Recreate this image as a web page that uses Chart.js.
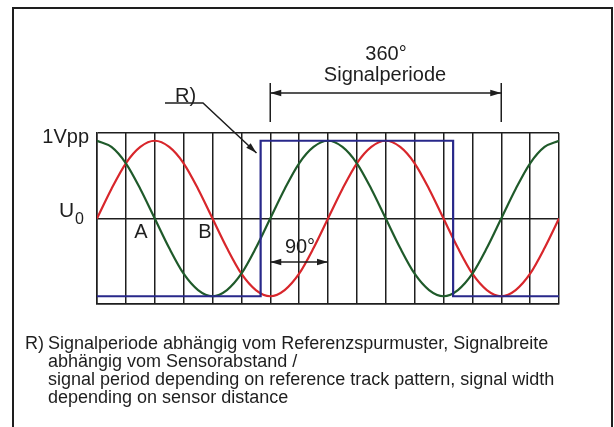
<!DOCTYPE html>
<html>
<head>
<meta charset="utf-8">
<script src="https://cdn.jsdelivr.net/npm/chart.js@4/dist/chart.umd.min.js"></script>
<style>
  body { margin: 0; background: #fff; }
  canvas { display: block; }
</style>
</head>
<body>
<canvas id="chart" width="614" height="427"></canvas>
<script>
'use strict';

// phase in electrical degrees, one sample every 22.5 deg
let phaseDeg = [0, 22.5, 45, 67.5, 90, 112.5, 135, 157.5, 180, 202.5, 225, 247.5, 270, 292.5, 315, 337.5,
  360, 382.5, 405, 427.5, 450, 472.5, 495, 517.5, 540, 562.5, 585, 607.5, 630, 652.5, 675, 697.5, 720];

// green track (cosine shaped)
let signalA = [1, 0.92, 0.71, 0.38, 0, -0.38, -0.71, -0.92, -1, -0.92, -0.71, -0.38, 0, 0.38, 0.71, 0.92,
  1, 0.92, 0.71, 0.38, 0, -0.38, -0.71, -0.92, -1, -0.92, -0.71, -0.38, 0, 0.38, 0.71, 0.92, 1];

// red track (sine shaped)
let signalB = [0, 0.38, 0.71, 0.92, 1, 0.92, 0.71, 0.38, 0, -0.38, -0.71, -0.92, -1, -0.92, -0.71, -0.38,
  0, 0.38, 0.71, 0.92, 1, 0.92, 0.71, 0.38, 0, -0.38, -0.71, -0.92, -1, -0.92, -0.71, -0.38, 0];

// blue reference pulse
let refDeg = [0, 255, 255, 555, 555, 720];
let refLevel = [-1, -1, 1, 1, -1, -1];

let yTicks = [-1.1, 0, 1.1];

function toPoints(xs, ys) {
  let pts = [];
  for (let i = 0; i < xs.length; i++) {
    pts.push({ x: xs[i], y: ys[i] });
  }
  return pts;
}

const ink = '#1e1e1e';
const font = '"Liberation Sans", Arial, sans-serif';

function arrowHead(ctx, x, y, dir) {
  // dir: angle in radians the arrow points to
  ctx.save();
  ctx.translate(x, y);
  ctx.rotate(dir);
  ctx.beginPath();
  ctx.moveTo(0, 0);
  ctx.lineTo(-11, -3.2);
  ctx.lineTo(-11, 3.2);
  ctx.closePath();
  ctx.fill();
  ctx.restore();
}

const annotations = {
  id: 'annotations',
  afterDraw(chart) {
    const ctx = chart.ctx;
    const xs = chart.scales.x;
    ctx.save();
    ctx.strokeStyle = ink;
    ctx.fillStyle = ink;

    // outer frame
    ctx.lineWidth = 2;
    ctx.strokeRect(13, 8, 599, 430);

    // 360 deg dimension
    const p0 = xs.getPixelForValue(270);
    const p1 = xs.getPixelForValue(630);
    ctx.lineWidth = 1.5;
    ctx.beginPath();
    ctx.moveTo(p0, 83); ctx.lineTo(p0, 122);
    ctx.moveTo(p1, 83); ctx.lineTo(p1, 122);
    ctx.moveTo(p0, 93); ctx.lineTo(p1, 93);
    ctx.stroke();
    arrowHead(ctx, p0, 93, Math.PI);
    arrowHead(ctx, p1, 93, 0);

    ctx.font = '20px ' + font;
    ctx.textAlign = 'center';
    ctx.fillText('360°', 386, 60);
    ctx.fillText('Signalperiode', 385, 81);

    // R) leader
    ctx.textAlign = 'left';
    ctx.fillText('R)', 175, 102);
    const tipX = 256.5, tipY = 153;
    ctx.beginPath();
    ctx.moveTo(165, 103);
    ctx.lineTo(203, 103);
    ctx.lineTo(tipX, tipY);
    ctx.stroke();
    arrowHead(ctx, tipX, tipY, Math.atan2(tipY - 103, tipX - 203));

    // left labels
    ctx.textAlign = 'right';
    ctx.fillText('1Vpp', 89, 143);
    ctx.textAlign = 'left';
    ctx.font = '21px ' + font;
    ctx.fillText('U', 59, 217);
    ctx.font = '16px ' + font;
    ctx.fillText('0', 75, 224);

    // A / B markers
    ctx.font = '20px ' + font;
    ctx.textAlign = 'center';
    ctx.fillText('A', 141, 238);
    ctx.fillText('B', 205, 238);
    ctx.fillText('90°', 300, 253);

    // 90 deg dimension
    const q0 = xs.getPixelForValue(270);
    const q1 = xs.getPixelForValue(360);
    ctx.beginPath();
    ctx.moveTo(q0, 262); ctx.lineTo(q1, 262);
    ctx.stroke();
    arrowHead(ctx, q0, 262, Math.PI);
    arrowHead(ctx, q1, 262, 0);

    // footnote
    ctx.font = '18px ' + font;
    ctx.textAlign = 'left';
    ctx.fillText('R)', 25, 349);
    ctx.fillText('Signalperiode abhängig vom Referenzspurmuster, Signalbreite', 48, 349);
    ctx.fillText('abhängig vom Sensorabstand /', 48, 367);
    ctx.fillText('signal period depending on reference track pattern, signal width', 48, 385);
    ctx.fillText('depending on sensor distance', 48, 403);
    ctx.restore();
  }
};

const ctx = document.getElementById('chart');
new Chart(ctx, {
  type: 'line',
  data: {
    datasets: [
      {
        label: 'Referenz',
        data: toPoints(refDeg, refLevel),
        borderColor: '#28288a',
        borderWidth: 2.2,
        pointRadius: 0,
        tension: 0
      },
      {
        label: 'A',
        data: toPoints(phaseDeg, signalA),
        borderColor: '#1f5a2a',
        borderWidth: 2.2,
        pointRadius: 0,
        cubicInterpolationMode: 'monotone'
      },
      {
        label: 'B',
        data: toPoints(phaseDeg, signalB),
        borderColor: '#d8262b',
        borderWidth: 2.2,
        pointRadius: 0,
        cubicInterpolationMode: 'monotone'
      }
    ]
  },
  options: {
    responsive: false,
    animation: false,
    layout: {
      padding: { left: 97, right: 55, top: 133, bottom: 123 }
    },
    plugins: {
      legend: { display: false },
      tooltip: { enabled: false }
    },
    scales: {
      x: {
        type: 'linear',
        min: 0,
        max: 720,
        ticks: { display: false, stepSize: 45 },
        grid: { color: ink, lineWidth: 1.5, drawTicks: false },
        border: { color: ink, width: 1.5 }
      },
      y: {
        min: yTicks[0],
        max: yTicks[yTicks.length - 1],
        afterBuildTicks(scale) {
          scale.ticks = yTicks.map(v => ({ value: v }));
        },
        ticks: { display: false },
        grid: { color: ink, lineWidth: 1.5, drawTicks: false },
        border: { color: ink, width: 1.5 }
      }
    }
  },
  plugins: [annotations]
});
</script>
</body>
</html>
